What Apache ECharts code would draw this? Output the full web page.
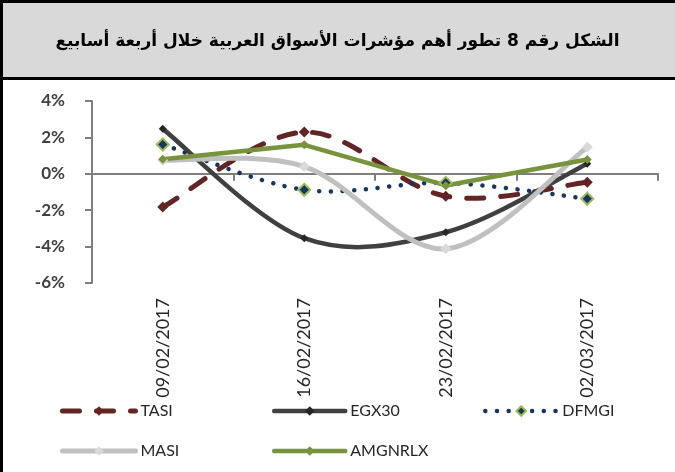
<!DOCTYPE html>
<html><head><meta charset="utf-8">
<script src="https://cdn.jsdelivr.net/npm/echarts@6/dist/echarts.min.js"></script>
<style>html,body{margin:0;padding:0;background:#fff}#c{width:675px;height:472px}</style>
</head><body><div id="c"></div>
<script>
const titleText = 'الشكل رقم 8 تطور أهم مؤشرات الأسواق العربية خلال أربعة أسابيع';
const categories = ['09/02/2017', '16/02/2017', '23/02/2017', '02/03/2017'];
const yTicks = { min: -6, max: 4, interval: 2 };
const TASI = [-1.83, 2.29, -1.23, -0.46];
const EGX30 = [2.47, -3.54, -3.21, 0.55];
const DFMGI = [1.61, -0.88, -0.5, -1.37];
const MASI = [0.75, 0.4, -4.12, 1.46];
const AMGNRLX = [0.8, 1.59, -0.64, 0.79];

const font = 'Lato, "Open Sans", sans-serif';
const styles = {
  TASI: { color: '#632523', width: 5, dash: [17, 17], cap: 'round', sym: 11, fill: '#632523', smooth: true },
  EGX30: { color: '#404040', width: 4.5, dash: null, cap: 'round', sym: 8, fill: '#262626', smooth: true },
  DFMGI: { color: '#17375e', width: 4.5, dash: [0.1, 11.6], cap: 'round', sym: 12, fill: '#17375e', border: '#9bbb59', smooth: true },
  MASI: { color: '#c0c0c0', width: 5, dash: null, cap: 'round', sym: 11, fill: '#d9d9d9', smooth: true },
  AMGNRLX: { color: '#77933c', width: 4.5, dash: null, cap: 'round', sym: 9, fill: '#77933c', smooth: false }
};
const seriesData = { TASI, EGX30, DFMGI, MASI, AMGNRLX };
const names = Object.keys(seriesData);

// Excel-style smoothed curve (Catmull-Rom Bezier), points mapped through the chart's axes
function curveSeries(name) {
  const arr = seriesData[name], s = styles[name];
  const k = s.smooth ? 1 / 6 : 0;
  return {
    type: 'custom', name: name + ' curve', data: [[0, 0]], silent: true, xAxisIndex: 1, yAxisIndex: 0,
    renderItem: function (params, api) {
      const p = arr.map(function (v, i) { return api.coord([i, v]); });
      const n = p.length;
      let d = 'M' + p[0][0] + ' ' + p[0][1];
      for (let i = 0; i < n - 1; i++) {
        const p0 = p[i - 1] || p[i], p1 = p[i], p2 = p[i + 1], p3 = p[i + 2] || p[i + 1];
        const c1 = [p1[0] + (p2[0] - p0[0]) * k, p1[1] + (p2[1] - p0[1]) * k];
        const c2 = [p2[0] - (p3[0] - p1[0]) * k, p2[1] - (p3[1] - p1[1]) * k];
        d += ' C' + c1[0] + ' ' + c1[1] + ' ' + c2[0] + ' ' + c2[1] + ' ' + p2[0] + ' ' + p2[1];
      }
      return { type: 'path', shape: { pathData: d },
        style: { fill: 'none', stroke: s.color, lineWidth: s.width, lineDash: s.dash || null, lineCap: s.cap, lineJoin: 'round' } };
    }
  };
}
function markerSeries(name) {
  const s = styles[name];
  return { name: name, type: 'line', data: seriesData[name], xAxisIndex: 1, symbol: 'diamond', symbolSize: s.sym,
    showAllSymbol: true, lineStyle: { opacity: 0, color: s.color, width: s.width },
    itemStyle: { color: s.fill, borderColor: s.border || s.fill, borderWidth: s.border ? 2 : 0 } };
}
function legend(name, left, top, w) {
  const s = styles[name];
  return { data: [{ name: name, lineStyle: { color: s.color, width: s.width, type: s.dash || 'solid', cap: s.cap, opacity: 1 } }],
    left: left, top: top, itemWidth: w, itemHeight: 12, padding: 0,
    textStyle: { fontSize: 16, color: '#262626', fontFamily: font } };
}

const chart = echarts.init(document.getElementById('c'));
chart.setOption({
  animation: false,
  title: { text: titleText, left: 'center', top: 28,
    textStyle: { fontFamily: '"DejaVu Sans"', fontSize: 17, fontWeight: 'bold', color: '#000' } },
  graphic: [
    { type: 'rect', shape: { x: 0, y: 0, width: 675, height: 80 }, style: { fill: '#d9d9d9' }, z: -10, silent: true },
    { type: 'rect', shape: { x: 0, y: 0, width: 675, height: 3 }, style: { fill: '#000' }, z: -9, silent: true },
    { type: 'rect', shape: { x: 0, y: 77, width: 675, height: 3 }, style: { fill: '#000' }, z: -9, silent: true },
    { type: 'rect', shape: { x: 0, y: 0, width: 3, height: 472 }, style: { fill: '#000' }, z: -9, silent: true }
  ],
  legend: [
    legend('TASI', 60, 403, 73),
    legend('EGX30', 272, 403, 71),
    legend('DFMGI', 483, 403, 72),
    legend('MASI', 60, 443, 73),
    legend('AMGNRLX', 272, 443, 71)
  ],
  grid: { left: 92, right: 17, top: 101, height: 182, containLabel: false },
  xAxis: [
    { type: 'category', data: categories, position: 'bottom',
      axisLine: { show: false, onZero: false }, axisTick: { show: false },
      axisLabel: { rotate: 90, margin: 15, fontSize: 18, color: '#262626', fontFamily: font } },
    { type: 'category', data: categories, position: 'bottom',
      axisLine: { onZero: true, lineStyle: { color: '#7f7f7f', width: 2 } },
      axisTick: { show: true, length: 7, lineStyle: { color: '#7f7f7f', width: 2 } },
      axisLabel: { show: false } }
  ],
  yAxis: { type: 'value', min: yTicks.min, max: yTicks.max, interval: yTicks.interval,
    splitLine: { show: false },
    axisLine: { show: true, lineStyle: { color: '#7f7f7f', width: 2 } },
    axisTick: { show: true, length: 7, lineStyle: { color: '#7f7f7f', width: 2 } },
    axisLabel: { formatter: '{value}%', margin: 27, fontSize: 17, fontWeight: 'bold', color: '#404040', fontFamily: font } },
  series: names.map(curveSeries).concat(names.map(markerSeries))
});
</script></body></html>
